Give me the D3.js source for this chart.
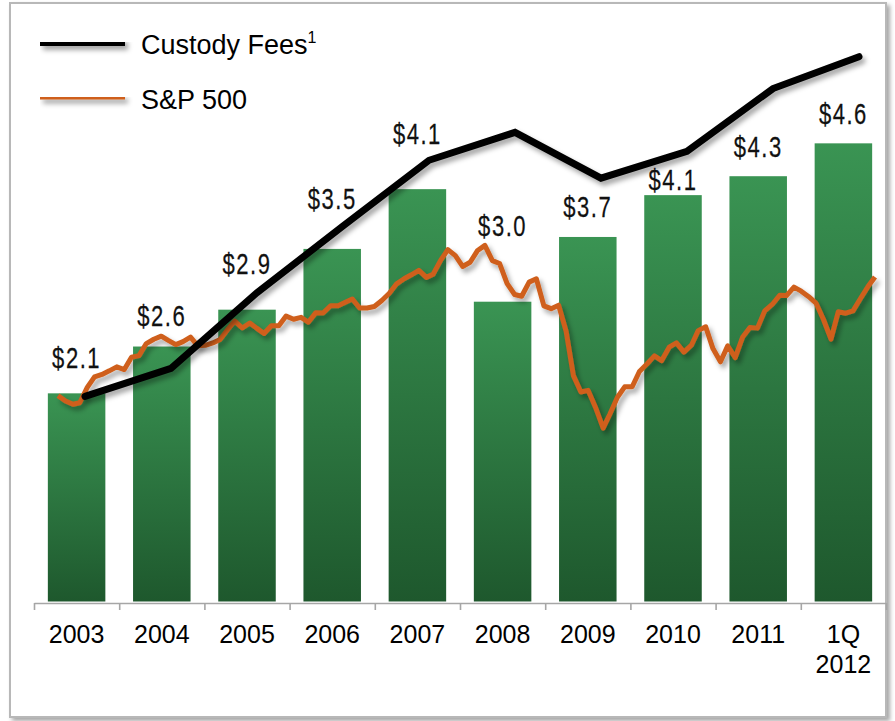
<!DOCTYPE html>
<html>
<head>
<meta charset="utf-8">
<script src="https://cdn.jsdelivr.net/npm/d3@7"></script>
<style>
  body { margin: 0; background: #fff; }
  svg { display: block; }
</style>
</head>
<body>
<script>
// categories and values
var years = ["2003", "2004", "2005", "2006", "2007", "2008", "2009", "2010", "2011", "1Q 2012"];
var barValues = [2.09, 2.56, 2.93, 3.54, 4.14, 3.01, 3.66, 4.08, 4.27, 4.60];
var feeValues = [2.06, 2.34, 3.10, 3.77, 4.43, 4.71, 4.25, 4.52, 5.15, 5.47];

// S&P 500 month-end closes, Dec 2002 .. Mar 2012
var spStart = new Date(2002, 11, 1);
var spValues = [
  879.8,
  855.7, 841.2, 848.2, 916.9, 963.6, 974.5, 990.3, 1008.0, 996.0, 1050.7, 1058.2, 1111.9,
  1131.1, 1144.9, 1126.2, 1107.3, 1120.7, 1140.8, 1101.7, 1104.2, 1114.6, 1130.2, 1173.8, 1211.9,
  1181.3, 1203.6, 1180.6, 1156.9, 1191.5, 1191.3, 1234.2, 1220.3, 1228.8, 1207.0, 1249.5, 1248.3,
  1280.1, 1280.7, 1294.9, 1310.6, 1270.1, 1270.2, 1276.7, 1303.8, 1335.9, 1377.9, 1400.6, 1418.3,
  1438.2, 1406.8, 1420.9, 1482.4, 1530.6, 1503.4, 1455.3, 1474.0, 1526.8, 1549.4, 1481.1, 1468.4,
  1378.6, 1330.6, 1322.7, 1385.6, 1400.4, 1280.0, 1267.4, 1282.8, 1166.4, 968.8, 896.2, 903.3,
  825.9, 735.1, 797.9, 872.8, 919.1, 919.3, 987.5, 1020.6, 1057.1, 1036.2, 1095.6, 1115.1,
  1073.9, 1104.5, 1169.4, 1186.7, 1089.4, 1030.7, 1101.6, 1049.3, 1141.2, 1183.3, 1180.6, 1257.6,
  1286.1, 1327.2, 1325.8, 1363.6, 1345.2, 1320.6, 1292.3, 1219.0, 1131.4, 1253.3, 1247.0, 1257.6,
  1312.4, 1365.7, 1408.5
];
var spDates = spValues.map(function(d, i){ return d3.timeMonth.offset(spStart, i); });

// label nudges (px) so value labels clear the lines
var labelRaise = [6, 1, 16, 20, 26, 46, 0, -14, 0, 0];

var width = 895, height = 721;
var margin = {top: 103.5, right: 9, bottom: 119, left: 34};
var x0 = margin.left, x1 = width - margin.right, yBase = height - margin.bottom;

var svg = d3.select('body')
            .append('svg')
            .attr('width', width)
            .attr('height', height);

var defs = svg.append('defs');
var grad = defs.append('linearGradient')
               .attr('id', 'barGrad')
               .attr('x1', 0).attr('y1', 0).attr('x2', 0).attr('y2', 1);
grad.append('stop').attr('offset', '0%').attr('stop-color', '#3a9453');
grad.append('stop').attr('offset', '100%').attr('stop-color', '#1e582d');

// user-space filter so flat lines keep their shadow too
var shadow = defs.append('filter')
                 .attr('id', 'shadow')
                 .attr('filterUnits', 'userSpaceOnUse')
                 .attr('x', 0).attr('y', 0)
                 .attr('width', width).attr('height', height);
shadow.append('feDropShadow')
      .attr('dx', 3).attr('dy', 4)
      .attr('stdDeviation', 2.5)
      .attr('flood-color', '#000')
      .attr('flood-opacity', 0.35);

var frameShadow = defs.append('filter').attr('id', 'frameShadow');
frameShadow.append('feDropShadow')
           .attr('dx', 3).attr('dy', 3)
           .attr('stdDeviation', 2)
           .attr('flood-color', '#000')
           .attr('flood-opacity', 0.35);

// frame
svg.append('rect')
   .attr('x', 10).attr('y', 3)
   .attr('width', 876).attr('height', 714)
   .attr('fill', '#fff')
   .attr('stroke', '#b8b8b8')
   .attr('stroke-width', 2)
   .attr('filter', 'url(#frameShadow)');

// scales
var xScale = d3.scaleBand()
               .domain(years)
               .range([x0, x1])
               .paddingInner(0.325)
               .paddingOuter(0.1625);

var yScale = d3.scaleLinear()
               .domain([0, 5])
               .range([yBase - 0.5, margin.top]);

var xFee = d3.scalePoint()
             .domain(years)
             .range([x0 + 51, x1 - 27]);

var xTime = d3.scaleTime()
              .domain(d3.extent(spDates))
              .range([x0 + 24, x1 - 11]);

var ySp = d3.scaleLinear()
            .domain([700, 1600])
            .range([436, 234]);

// bars
svg.selectAll('rect.bar')
   .data(barValues)
   .enter()
   .append('rect')
   .attr('class', 'bar')
   .attr('x', function(d, i){ return xScale(years[i]); })
   .attr('y', function(d){ return yScale(d); })
   .attr('width', xScale.bandwidth())
   .attr('height', function(d){ return yScale(0) - yScale(d); })
   .attr('fill', 'url(#barGrad)');

// boundary ticks + axis line
var edgeScale = d3.scaleLinear().domain([0, years.length]).range([x0, x1]);
var edgeAxis = d3.axisBottom(edgeScale)
                 .tickValues(d3.range(years.length + 1))
                 .tickSize(7)
                 .tickSizeOuter(0)
                 .tickFormat('');
var gEdge = svg.append('g')
   .attr('transform', 'translate(0,' + (yBase + 1) + ')')
   .call(edgeAxis);
gEdge.selectAll('path, line')
     .attr('stroke', '#a6a6a6')
     .attr('stroke-width', 1.6);

// category labels
var xAxis = d3.axisBottom(xScale).tickSize(0);
var gx = svg.append('g')
   .attr('transform', 'translate(0,' + (yBase + 1) + ')')
   .call(xAxis);
gx.select('.domain').remove();
gx.selectAll('text').each(function(d){
  var t = d3.select(this);
  var parts = d.split(' ');
  t.text(null)
   .attr('y', 0)
   .attr('dy', null)
   .attr('font-family', 'Liberation Sans, Arial, sans-serif')
   .attr('font-size', '25px')
   .attr('fill', '#000');
  parts.forEach(function(p, k){
    t.append('tspan')
     .attr('x', 0)
     .attr('y', 40 + k * 30)
     .text(p);
  });
});

// S&P 500 line
var spLine = d3.line()
               .x(function(d, i){ return xTime(spDates[i]); })
               .y(function(d){ return ySp(d); });
svg.append('path')
   .datum(spValues)
   .attr('d', spLine)
   .attr('fill', 'none')
   .attr('stroke', '#cf5f1c')
   .attr('stroke-width', 5)
   .attr('stroke-linejoin', 'round')
   .attr('filter', 'url(#shadow)');

// custody fees line
var feeLine = d3.line()
                .x(function(d, i){ return xFee(years[i]); })
                .y(function(d){ return yScale(d); });
svg.append('path')
   .datum(feeValues)
   .attr('d', feeLine)
   .attr('fill', 'none')
   .attr('stroke', '#000')
   .attr('stroke-width', 7)
   .attr('stroke-linejoin', 'miter')
   .attr('stroke-linecap', 'round')
   .attr('filter', 'url(#shadow)');

// value labels (narrow face: squeeze Liberation Sans horizontally)
var fmt = d3.format('.1f');
svg.selectAll('text.val')
   .data(barValues)
   .enter()
   .append('text')
   .attr('class', 'val')
   .attr('transform', function(d, i){
     var cx = xScale(years[i]) + xScale.bandwidth() / 2,
         cy = yScale(d) - 30 - labelRaise[i];
     return 'translate(' + cx + ',' + cy + ') scale(0.76,1)';
   })
   .attr('dy', '0.36em')
   .attr('text-anchor', 'middle')
   .attr('font-family', 'Liberation Sans, Arial, sans-serif')
   .attr('font-size', '29px')
   .attr('letter-spacing', '2px')
   .attr('fill', '#111')
   .attr('stroke', '#111')
   .attr('stroke-width', 0.25)
   .text(function(d){ return '$' + fmt(d); });

// legend
var legend = [
  {name: 'Custody Fees', sup: '1', color: '#000', w: 8},
  {name: 'S&P 500', sup: '', color: '#cf5f1c', w: 5}
];
var lg = svg.selectAll('g.legend')
   .data(legend)
   .enter()
   .append('g')
   .attr('class', 'legend')
   .attr('transform', function(d, i){ return 'translate(40,' + (42 + i * 55) + ')'; });
lg.append('line')
  .attr('x1', 0).attr('x2', 85)
  .attr('y1', 0).attr('y2', 0)
  .attr('stroke', function(d){ return d.color; })
  .attr('stroke-width', function(d){ return d.w; })
  .attr('filter', 'url(#shadow)');
var lt = lg.append('text')
  .attr('x', 101)
  .attr('y', 12)
  .attr('font-family', 'Liberation Sans, Arial, sans-serif')
  .attr('font-size', '27px')
  .attr('fill', '#000')
  .text(function(d){ return d.name; });
lt.append('tspan')
  .attr('font-size', '16px')
  .attr('dy', '-11')
  .text(function(d){ return d.sup; });
</script>
</body>
</html>
